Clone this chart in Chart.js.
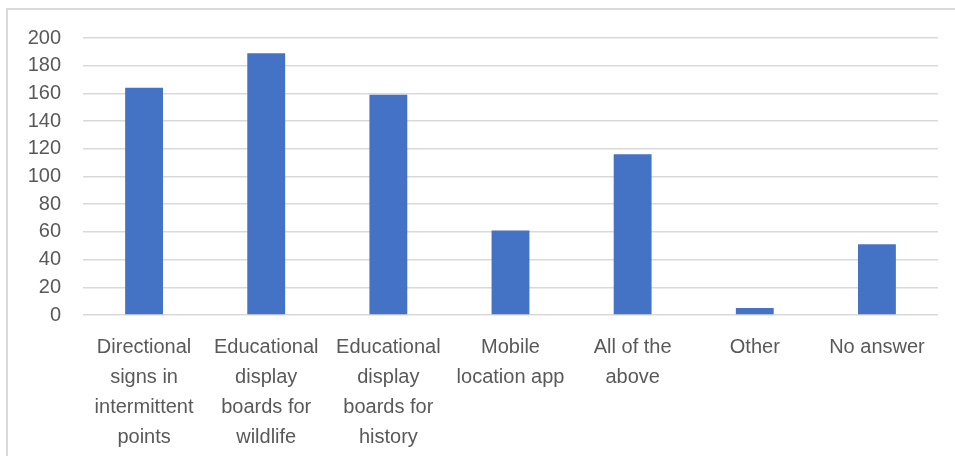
<!DOCTYPE html>
<html>
<head>
<meta charset="utf-8">
<script src="https://cdn.jsdelivr.net/npm/chart.js@4.4.1/dist/chart.umd.min.js"></script>
<style>
  html, body { margin: 0; padding: 0; background: #fff; }
  #wrap { position: relative; width: 955px; height: 456px; overflow: hidden; }
  #frame { position: absolute; left: 6px; top: 8px; right: -2px; bottom: -2px;
           border-top: 2px solid #d9d9d9; border-left: 2px solid #d9d9d9; }
  canvas { position: absolute; left: 0; top: 0; }
</style>
</head>
<body>
<div id="wrap">
  <div id="frame"></div>
  <canvas id="chartCanvas" width="955" height="456"></canvas>
</div>
<script>
const categories = [
  ['Directional', 'signs in', 'intermittent', 'points'],
  ['Educational', 'display', 'boards for', 'wildlife'],
  ['Educational', 'display', 'boards for', 'history'],
  ['Mobile', 'location app'],
  ['All of the', 'above'],
  ['Other'],
  ['No answer']
];
const responses = [164, 189, 159, 61, 116, 5, 51];
const yMin = 0;
const yMax = 200;
const yStep = 20;

const ctx = document.getElementById('chartCanvas').getContext('2d');
const chart = new Chart(ctx, {
  type: 'bar',
  data: {
    labels: categories,
    datasets: [{
      label: 'Responses',
      data: responses,
      backgroundColor: '#4472c4',
      borderWidth: 0,
      barPercentage: 0.31,
      categoryPercentage: 1
    }]
  },
  options: {
    responsive: false,
    animation: false,
    layout: { padding: { top: 38, right: 17, bottom: 0, left: 0 } },
    plugins: { legend: { display: false }, tooltip: { enabled: false } },
    scales: {
      x: {
        grid: { display: false, drawTicks: false },
        border: { display: false },
        ticks: {
          color: '#595959',
          font: { family: "'Liberation Sans', Arial, sans-serif", size: 20, lineHeight: 1.5 },
          padding: 17,
          maxRotation: 0,
          autoSkip: false
        },
        afterFit: (scale) => { scale.height = 141; }
      },
      y: {
        min: yMin,
        max: yMax,
        grid: { color: '#d9d9d9', lineWidth: 1.5, drawTicks: false },
        border: { display: false },
        ticks: {
          stepSize: yStep,
          color: '#595959',
          font: { family: "'Liberation Sans', Arial, sans-serif", size: 20 },
          padding: 22
        },
        afterFit: (scale) => { scale.width = 83; }
      }
    }
  }
});
</script>
</body>
</html>
